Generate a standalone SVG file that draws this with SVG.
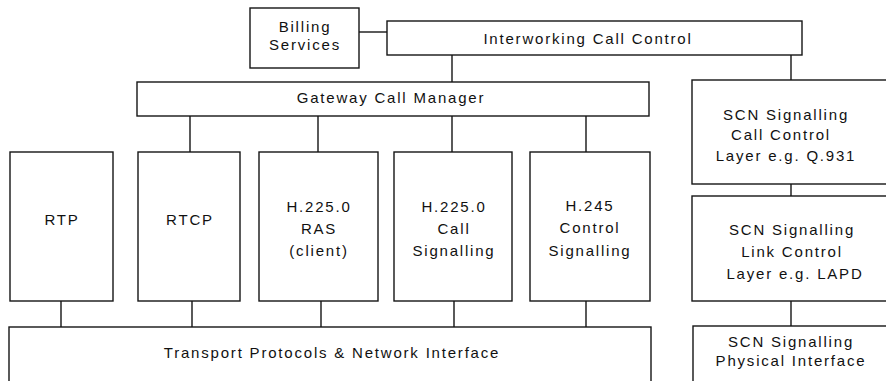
<svg xmlns="http://www.w3.org/2000/svg" width="886" height="381" viewBox="0 0 886 381">
  <style>
    .box { fill: #fff; stroke: #151515; stroke-width: 1.4; }
    .wire { stroke: #151515; stroke-width: 1.4; fill: none; }
    .lbl { font-family: "Liberation Sans", Arial, sans-serif; font-size: 15px; letter-spacing: 1.8px; fill: #111; text-anchor: middle; }
  </style>
  <rect width="886" height="381" fill="#fff"/>

  <!-- connectors -->
  <g id="connectors" class="wire">
    <path d="M359 32H387"/>
    <path d="M452 55V82"/>
    <path d="M791 55V80"/>
    <path d="M190 116V152M318 116V152M452 116V152M586 116V152"/>
    <path d="M61 301V327M192 301V327M321 301V327M454 301V327M586 301V327"/>
    <path d="M791 184V196"/>
    <path d="M791 301V326"/>
  </g>

  <g id="billing">
    <rect class="box" x="250" y="8" width="109" height="60"/>
    <text class="lbl" x="305" y="32">Billing</text>
    <text class="lbl" x="305" y="50">Services</text>
  </g>

  <g id="interworking">
    <rect class="box" x="387" y="21" width="415" height="34"/>
    <text class="lbl" x="588" y="44">Interworking Call Control</text>
  </g>

  <g id="gateway">
    <rect class="box" x="137" y="82" width="512" height="34"/>
    <text class="lbl" x="391" y="103">Gateway Call Manager</text>
  </g>

  <g id="rtp">
    <rect class="box" x="10" y="152" width="103" height="149"/>
    <text class="lbl" x="62" y="225">RTP</text>
  </g>

  <g id="rtcp">
    <rect class="box" x="138" y="152" width="102" height="149"/>
    <text class="lbl" x="190" y="225">RTCP</text>
  </g>

  <g id="ras">
    <rect class="box" x="259" y="152" width="119" height="149"/>
    <text class="lbl" x="319" y="212">H.225.0</text>
    <text class="lbl" x="319" y="234">RAS</text>
    <text class="lbl" x="319" y="256">(client)</text>
  </g>

  <g id="call-signalling">
    <rect class="box" x="394" y="152" width="118" height="149"/>
    <text class="lbl" x="454" y="212">H.225.0</text>
    <text class="lbl" x="454" y="234">Call</text>
    <text class="lbl" x="454" y="256">Signalling</text>
  </g>

  <g id="h245">
    <rect class="box" x="530" y="152" width="120" height="149"/>
    <text class="lbl" x="590" y="211">H.245</text>
    <text class="lbl" x="590" y="233">Control</text>
    <text class="lbl" x="590" y="256">Signalling</text>
  </g>

  <g id="transport">
    <rect class="box" x="9" y="327" width="642" height="70"/>
    <text class="lbl" x="332" y="358">Transport Protocols &amp; Network Interface</text>
  </g>

  <g id="scn-call-control">
    <rect class="box" x="692" y="80" width="210" height="104"/>
    <text class="lbl" x="786" y="120">SCN Signalling</text>
    <text class="lbl" x="781" y="140">Call Control</text>
    <text class="lbl" x="786" y="161">Layer e.g. Q.931</text>
  </g>

  <g id="scn-link-control">
    <rect class="box" x="692" y="196" width="210" height="105"/>
    <text class="lbl" x="792" y="235">SCN Signalling</text>
    <text class="lbl" x="792" y="257">Link Control</text>
    <text class="lbl" x="795" y="279">Layer e.g. LAPD</text>
  </g>

  <g id="scn-physical">
    <rect class="box" x="693" y="326" width="210" height="70"/>
    <text class="lbl" x="791" y="347">SCN Signalling</text>
    <text class="lbl" x="791" y="366">Physical Interface</text>
  </g>
</svg>
